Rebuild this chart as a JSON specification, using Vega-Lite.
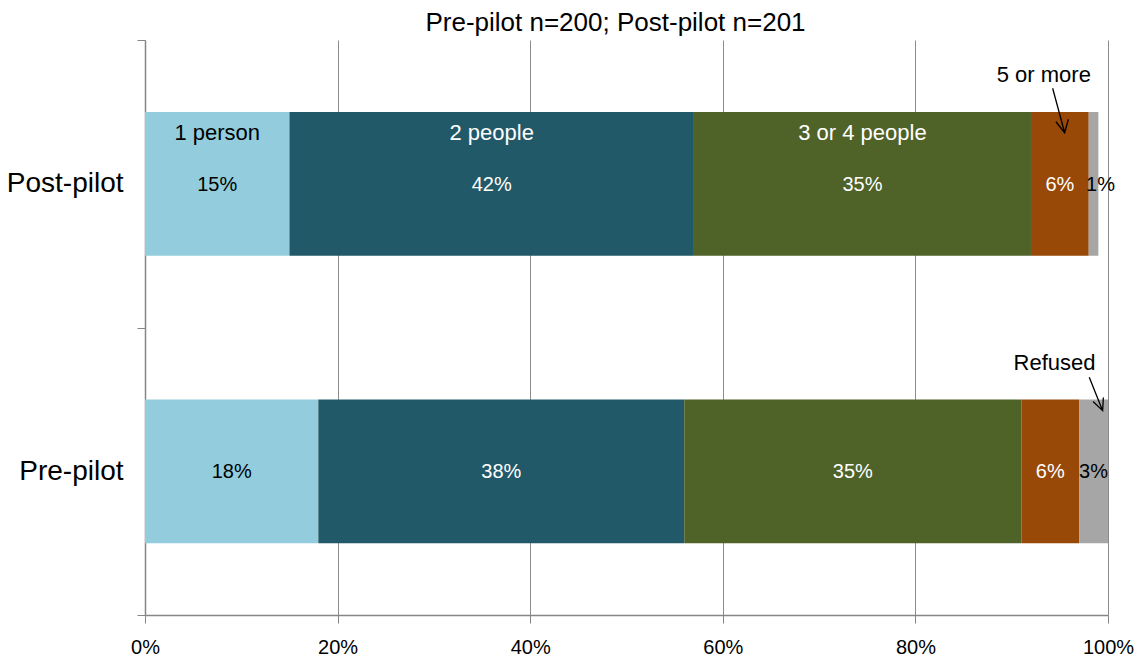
{
  "$schema": "https://vega.github.io/schema/vega-lite/v6.json",
  "width": 963,
  "height": 575,
  "autosize": {"type": "none"},
  "padding": {"left": 145, "top": 40, "right": 31, "bottom": 43},
  "background": "white",
  "title": {
    "text": "Pre-pilot n=200; Post-pilot n=201",
    "fontSize": 26,
    "fontWeight": "normal",
    "font": "Liberation Sans",
    "color": "black",
    "offset": 6,
    "dy": 16,
    "dx": -11
  },
  "config": {
    "font": "Liberation Sans",
    "view": {"stroke": null}
  },
  "data": {
    "values": [
      {"group": "Post-pilot", "cat": "1 person", "share": 0.15, "order": 1},
      {"group": "Post-pilot", "cat": "2 people", "share": 0.42, "order": 2},
      {"group": "Post-pilot", "cat": "3 or 4 people", "share": 0.35, "order": 3},
      {"group": "Post-pilot", "cat": "5 or more", "share": 0.06, "order": 4},
      {"group": "Post-pilot", "cat": "Refused", "share": 0.01, "order": 5},
      {"group": "Pre-pilot", "cat": "1 person", "share": 0.18, "order": 1},
      {"group": "Pre-pilot", "cat": "2 people", "share": 0.38, "order": 2},
      {"group": "Pre-pilot", "cat": "3 or 4 people", "share": 0.35, "order": 3},
      {"group": "Pre-pilot", "cat": "5 or more", "share": 0.06, "order": 4},
      {"group": "Pre-pilot", "cat": "Refused", "share": 0.03, "order": 5}
    ]
  },
  "encoding": {
    "y": {
      "field": "group",
      "type": "nominal",
      "sort": ["Post-pilot", "Pre-pilot"],
      "scale": {"paddingInner": 0, "paddingOuter": 0},
      "axis": {
        "title": null,
        "tickBand": "extent",
        "labelFontSize": 28,
        "labelColor": "black",
        "labelPadding": 14,
        "tickSize": 8,
        "tickColor": "#868686",
        "domainColor": "#868686",
        "domainWidth": 1.5,
        "grid": false
      }
    },
    "order": {"field": "order", "type": "quantitative"}
  },
  "layer": [
    {
      "mark": {"type": "bar", "height": {"band": 0.5}},
      "encoding": {
        "x": {
          "field": "share",
          "type": "quantitative",
          "stack": "zero",
          "scale": {"domain": [0, 1], "nice": false},
          "axis": {
            "title": null,
            "values": [0, 0.2, 0.4, 0.6, 0.8, 1],
            "format": ".0%",
            "labelFlush": false,
            "labelFontSize": 20,
            "labelColor": "black",
            "labelPadding": 14,
            "tickSize": 8,
            "tickColor": "#868686",
            "domainColor": "#868686",
            "domainWidth": 1.5,
            "grid": true,
            "gridColor": "#8c8c8c",
            "gridWidth": 1
          }
        },
        "color": {
          "field": "cat",
          "type": "nominal",
          "legend": null,
          "scale": {
            "domain": ["1 person", "2 people", "3 or 4 people", "5 or more", "Refused"],
            "range": ["#93CDDD", "#215968", "#4F6228", "#984807", "#A6A6A6"]
          }
        }
      }
    },
    {
      "mark": {"type": "text", "fontSize": 20, "baseline": "middle", "dy": 1},
      "encoding": {
        "x": {"field": "share", "type": "quantitative", "stack": "zero", "bandPosition": 0.5},
        "text": {
          "condition": {"test": "!(datum.group === 'Post-pilot' && datum.cat === 'Refused')", "field": "share", "format": ".0%"},
          "value": ""
        },
        "color": {
          "condition": {"test": "datum.cat === '1 person' || datum.cat === 'Refused'", "value": "black"},
          "value": "white"
        }
      }
    },
    {
      "mark": {"type": "text", "fontSize": 20, "baseline": "middle", "dy": 1, "dx": 7, "color": "black"},
      "encoding": {
        "x": {"field": "share", "type": "quantitative", "stack": "zero", "bandPosition": 0.5},
        "text": {
          "condition": {"test": "datum.group === 'Post-pilot' && datum.cat === 'Refused'", "field": "share", "format": ".0%"},
          "value": ""
        }
      }
    },
    {
      "mark": {"type": "text", "fontSize": 22, "baseline": "middle", "dy": -51},
      "encoding": {
        "x": {"field": "share", "type": "quantitative", "stack": "zero", "bandPosition": 0.5},
        "text": {
          "condition": {"test": "datum.group === 'Post-pilot' && datum.order <= 3", "field": "cat"},
          "value": ""
        },
        "color": {
          "condition": {"test": "datum.cat === '1 person'", "value": "black"},
          "value": "white"
        }
      }
    },
    {
      "mark": {"type": "text", "fontSize": 22, "baseline": "middle", "dy": -109, "dx": -16, "color": "black"},
      "encoding": {
        "x": {"field": "share", "type": "quantitative", "stack": "zero", "bandPosition": 0.5},
        "text": {
          "condition": {"test": "datum.group === 'Post-pilot' && datum.cat === '5 or more'", "field": "cat"},
          "value": ""
        }
      }
    },
    {
      "mark": {"type": "text", "fontSize": 22, "baseline": "middle", "dy": -108, "dx": -39, "color": "black"},
      "encoding": {
        "x": {"field": "share", "type": "quantitative", "stack": "zero", "bandPosition": 0.5},
        "text": {
          "condition": {"test": "datum.group === 'Pre-pilot' && datum.cat === 'Refused'", "field": "cat"},
          "value": ""
        }
      }
    },
    {
      "mark": {"type": "point", "filled": false, "stroke": "black", "strokeWidth": 1.3, "size": 4},
      "encoding": {
        "x": {"field": "share", "type": "quantitative", "stack": "zero", "bandPosition": 0.5},
        "shape": {
          "condition": [
            {"test": "datum.group === 'Post-pilot' && datum.cat === '5 or more'", "value": "M-7.2,-95.5L4.8,-51M-3.9,-62L4.8,-51L8.5,-64.5"},
            {"test": "datum.group === 'Pre-pilot' && datum.cat === 'Refused'", "value": "M-4.3,-94L9.1,-60.6M-0.5,-69.7L9.1,-60.6L9.8,-73.8"}
          ],
          "value": "circle"
        },
        "opacity": {
          "condition": {"test": "(datum.group === 'Post-pilot' && datum.cat === '5 or more') || (datum.group === 'Pre-pilot' && datum.cat === 'Refused')", "value": 1},
          "value": 0
        }
      }
    }
  ]
}
